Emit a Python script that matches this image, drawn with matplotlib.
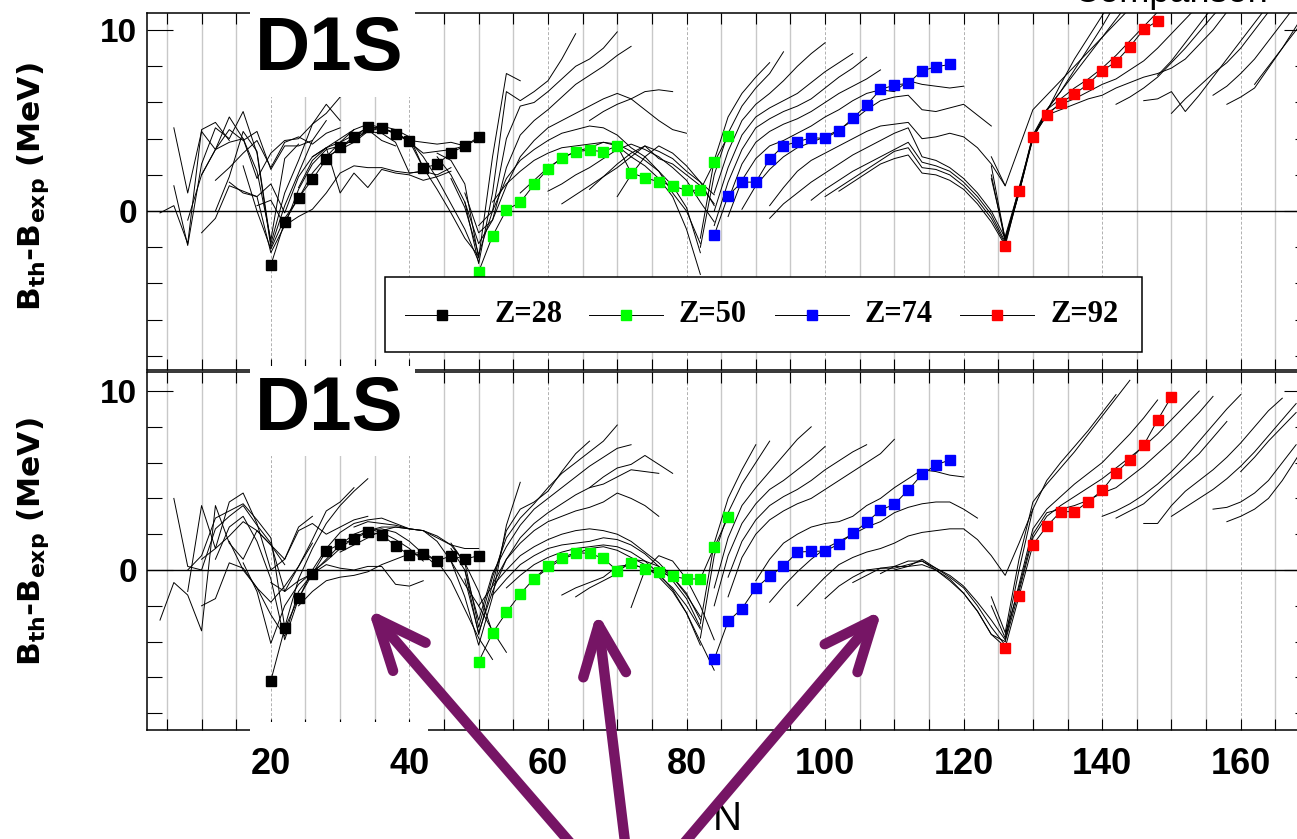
import numpy as np
import matplotlib.pyplot as plt
from matplotlib.patches import Rectangle, FancyArrowPatch, ArrowStyle
from matplotlib.lines import Line2D
from matplotlib.ticker import MultipleLocator, FuncFormatter

W, H = 1297, 839

# marked isotopic chains, B_th - B_exp in MeV, every second N
n_z28 = list(range(20, 52, 2))
n_z50 = list(range(50, 88, 2))
n_z74 = list(range(84, 120, 2))
n_z92_top = list(range(126, 150, 2))
n_z92_bot = list(range(126, 152, 2))

z28_top = [-2.98, -0.59, 0.74, 1.75, 2.87, 3.54, 4.1, 4.64, 4.6, 4.24, 3.87, 2.39, 2.58, 3.22, 3.6, 4.1]
z50_top = [-3.35, -1.38, 0.07, 0.48, 1.47, 2.32, 2.95, 3.28, 3.37, 3.28, 3.61, 2.12, 1.84, 1.62, 1.4, 1.14,
           1.16, 2.69, 4.14]
z74_top = [-1.34, 0.85, 1.6, 1.6, 2.87, 3.61, 3.83, 4.05, 4.02, 4.44, 5.12, 5.86, 6.72, 6.96, 7.06, 7.75,
           7.97, 8.1]
z92_top = [-1.93, 1.12, 4.09, 5.29, 5.98, 6.46, 7.03, 7.75, 8.25, 9.08, 10.04, 10.5]

z28_bot = [-6.18, -3.26, -1.58, -0.22, 1.06, 1.45, 1.71, 2.14, 1.96, 1.36, 0.84, 0.88, 0.5, 0.8, 0.61, 0.8]
z50_bot = [-5.12, -3.52, -2.37, -1.34, -0.48, 0.22, 0.69, 0.97, 0.93, 0.65, -0.04, 0.37, 0.06, -0.13,
           -0.35, -0.5, -0.5, 1.27, 2.94]
z74_bot = [-4.99, -2.87, -2.16, -1.02, -0.35, 0.22, 1.0, 1.04, 1.06, 1.45, 2.05, 2.66, 3.35, 3.67, 4.47,
           5.34, 5.87, 6.15]
z92_bot = [-4.34, -1.47, 1.41, 2.44, 3.26, 3.26, 3.82, 4.45, 5.44, 6.15, 6.98, 8.38, 9.68]

legend_labels = ['Z=28', 'Z=50', 'Z=74', 'Z=92']
marker_colors = ['#000000', '#00ff00', '#0000ff', '#ff0000']

# other isotopic chains: (first N, values every second N)
top_light = [
    (4, [-0.1, 0.3, -1.8, 4.5, 4.9, 3.9]),
    (6, [4.6, 1.0, 4.4, 3.4, 5.2, 4.0, 2.2, -1.6, 2.9, 3.7]),
    (6, [1.4, -1.9, 2.6, 4.6, 4.0, 5.5, 3.2, -2.0, 0.3, 2.1, 3.9, 5.0]),
    (8, [-0.5, 2.0, 3.4, 4.5, 3.9, 4.4, 2.3, 3.6, 3.6, 3.9]),
    (10, [2.0, 3.4, 3.8, 4.0, 1.8, 3.2, 3.9, 4.0, 4.8, 5.9, 5.0]),
    (10, [-1.2, -0.4, 1.4, 1.1, 0.8, 1.5, -0.1, 1.9, 3.0, 3.5, 3.8, 4.5]),
    (12, [0.0, 1.9, 4.4, 3.3, -1.8, 1.0, 2.8, 4.8, 5.4, 6.3]),
    (12, [1.7, 2.4, 3.2, 3.9, 2.4, 3.8, 4.1, 3.7, 4.3, 4.6]),
    (14, [1.6, 1.0, 0.8, -2.3, -0.8, 1.2, 2.6, 3.4, 3.6, 3.9, 4.5, 3.9, 3.6]),
    (16, [2.5, 0.0, -2.1, -0.4, 0.7, 2.1, 3.0, 3.8, 4.2, 4.4, 4.3, 3.8, 2.1, 2.2]),
    (18, [0.3, 0.6, -0.8, -0.3, 0.1, 1.0, 2.1, 2.5, 2.4, 2.4, 2.2, 2.1, 2.2, 2.0, 2.4]),
    (24, [1.3, 2.8, 3.5, 1.0, 2.1, 1.3, 2.3, 2.1, 2.0, 1.7, 1.9, 2.2]),
    (26, [3.0, 3.5, 4.0, 4.5, 4.8, 4.6, 4.3, 3.9, 3.8, 3.7, 3.8, 3.6]),
    (28, [3.0, 3.4, 3.8, 4.4, 4.7, 4.5, 4.1, 2.4, 1.2, -0.1, -1.5, -2.5]),
    (30, [3.5, 4.0, 4.4, 4.6, 4.3, 3.9, 3.0, 1.8, 0.4, -1.0, -2.8]),
    (32, [4.2, 4.6, 4.6, 4.3, 3.8, 3.2, 3.3, 3.4, 3.6, 4.0]),
]
top_mid = [
    (44, [3.2, 2.8, 1.5, -2.6, 3.0, 7.6, 7.2]),
    (44, [3.0, 2.0, 0.5, -2.9, 1.0, 6.6, 6.1, 6.6, 7.2, 8.4, 9.8]),
    (46, [1.8, 0.2, -2.4, 0.0, 4.0, 5.8, 6.0, 6.6, 7.3, 8.0, 8.4, 9.0, 9.9]),
    (48, [0.5, -1.8, -0.5, 2.4, 4.2, 5.0, 5.6, 6.3, 7.0, 7.5, 8.0, 8.6, 9.1]),
    (48, [1.0, -1.2, -0.5, 1.4, 3.0, 3.9, 4.6, 5.0, 5.4, 5.8, 6.2, 6.5, 6.2, 5.6, 5.0, 4.5, 4.3]),
    (50, [-0.8, 0.0, 1.8, 2.8, 3.4, 3.9, 4.3, 4.5, 4.7, 4.6, 4.2, 3.5, 3.0, 2.2, 1.0, 0.0, -1.8]),
    (52, [0.5, 1.5, 2.2, 2.8, 3.2, 3.5, 3.6, 3.7, 3.8, 3.7, 3.3, 2.8, 2.2, 1.4, 0.2, -2.3]),
    (56, [1.0, 1.7, 2.4, 2.9, 3.3, 3.5, 3.8, 3.6, 3.0, 2.5, 1.8, 0.8, -1.0, -3.5]),
    (60, [1.1, 1.5, 2.0, 2.4, 2.9, 3.4, 3.7, 3.4, 3.0, 2.4, 1.7, 0.5, -0.6]),
    (62, [0.4, 0.9, 1.4, 1.9, 2.4, 3.0, 3.6, 2.9, 2.6, 2.0, 1.4, 0.4]),
    (66, [1.2, 1.9, 2.6, 3.2, 3.6, 3.3, 2.9, 2.2, 1.6, 0.9]),
    (66, [5.0, 5.5, 5.9, 6.2, 6.6, 6.7, 6.6]),
    (70, [0.8, 2.0, 3.0, 3.6, 3.2, 2.5, 1.6, 0.3]),
]
top_heavy = [
    (82, [-1.5, 2.8, 5.2, 6.5, 7.4, 8.2]),
    (82, [-2.0, 2.0, 4.3, 5.8, 6.8, 7.6, 8.8]),
    (84, [1.0, 3.3, 5.0, 5.9, 6.5, 7.2, 8.0, 8.7, 9.3]),
    (84, [0.0, 2.4, 4.2, 5.2, 5.7, 6.1, 6.5, 7.1, 7.7, 8.2, 8.7]),
    (84, [-0.8, 1.6, 3.4, 4.6, 5.1, 5.5, 5.8, 6.2, 6.8, 7.4, 7.9, 8.5]),
    (86, [0.6, 2.6, 3.8, 4.4, 4.8, 5.1, 5.5, 6.0, 6.5, 6.9, 7.3, 7.8]),
    (86, [-0.3, 1.7, 2.9, 3.6, 3.9, 4.3, 4.7, 5.2, 5.6, 6.1, 6.5, 6.7, 6.6, 7.2, 7.0, 6.9, 6.8, 6.9]),
    (88, [0.1, 1.4, 2.3, 3.0, 3.5, 3.8, 4.1, 4.5, 5.0, 5.6, 6.1, 6.3, 6.4, 5.6, 5.5, 5.7, 5.9, 5.3, 4.7]),
    (92, [0.3, 1.3, 2.2, 2.8, 3.2, 3.6, 4.0, 4.4, 4.7, 4.8, 4.9, 4.0, 4.1, 4.3, 4.1, 3.5, 2.6, 1.4]),
    (92, [-0.4, 0.4, 1.0, 1.6, 2.1, 2.6, 3.1, 3.5, 3.9, 4.3, 4.6, 3.0, 2.8, 2.4, 1.8, 1.0, 0.0, -1.5]),
    (98, [0.6, 1.2, 1.7, 2.2, 2.6, 3.0, 3.4, 3.8, 2.7, 2.5, 2.2, 1.6, 0.8, -0.2, -1.7]),
    (100, [0.8, 1.3, 1.8, 2.3, 2.8, 3.3, 3.5, 2.4, 2.3, 2.0, 1.4, 0.6, -0.4, -1.8]),
    (102, [1.1, 1.6, 2.1, 2.6, 2.9, 3.1, 2.1, 2.0, 1.7, 1.2, 0.4, -0.6, -1.9]),
]
top_act = [
    (124, [2.5, -1.6, 1.0, 4.2, 5.6, 6.6, 7.8, 9.0, 10.2, 11.5]),
    (124, [2.0, -1.7, 1.3, 4.0, 5.5, 7.0, 8.4, 9.6, 10.8, 12.0]),
    (124, [3.0, 1.4, 3.5, 5.6, 6.4, 7.2, 8.0, 8.8, 9.6, 10.4, 11.2, 12.0]),
    (124, [1.8, -1.5, 1.0, 4.0, 5.6, 6.2, 6.8, 7.3, 7.9, 8.6, 9.4, 10.2, 11.0, 11.8]),
    (126, [-1.4, 1.2, 4.2, 5.4, 5.9, 6.2, 6.6, 7.0, 7.3, 7.8, 8.3, 9.0, 9.8, 10.6, 11.4]),
    (126, [-1.8, 1.0, 4.1, 5.3, 5.6, 5.9, 6.2, 6.4, 6.8, 7.1, 7.4, 7.6, 7.9, 8.4, 9.2, 10.0, 11.0]),
    (132, [5.6, 6.6, 7.6, 8.6, 9.6, 10.6, 11.6]),
    (142, [5.9, 6.3, 6.8, 7.4, 8.2, 9.0, 9.9, 10.8, 11.6]),
    (146, [6.1, 6.2, 6.6, 5.5, 6.4, 7.4, 8.4, 9.4, 10.4, 11.4]),
    (148, [7.5, 8.3, 9.3, 10.3, 11.3]),
    (150, [5.4, 6.2, 6.9, 7.6, 8.2, 9.0, 10.0, 11.0, 12.0]),
    (156, [6.4, 6.9, 7.6, 8.4, 9.4, 10.4, 11.4]),
    (158, [5.9, 6.3, 6.8, 7.9, 9.0, 10.2, 11.4]),
    (162, [7.0, 8.0, 9.0, 10.0, 11.0]),
]

bot_light = [
    (4, [-2.8, -0.7, -1.4, -3.4, 3.6, 1.5, 0.6, 2.2, 1.4, 0.3]),
    (6, [4.0, 0.2, 0.0, 2.3, 3.0, 3.6, 2.5, 1.5, -1.2, 0.2, 1.5]),
    (8, [-1.2, 3.6, 1.2, 3.8, 4.3, 2.6, 0.0, 0.6, 2.4, 3.0]),
    (8, [0.0, 0.8, 2.9, 3.3, 3.7, 2.8, 1.8, -3.2, -0.5, 1.2, 2.6, 3.6, 4.4, 5.1]),
    (10, [-2.0, -1.6, 0.4, 0.1, -1.0, -1.8, -0.9, 0.2, 1.7, 3.3, 3.8, 4.6]),
    (10, [0.6, 1.2, 1.9, 2.7, 2.2, 1.4, 0.6, 2.2, 2.6, 2.0, 2.4, 2.8, 3.0]),
    (12, [0.6, 2.4, 3.0, 1.6, -0.5, -3.9, -1.6, 0.0, 1.2, 2.1, 2.6, 2.8, 2.9, 2.6, 2.3]),
    (14, [1.6, 0.0, -1.0, -2.5, -3.7, -1.2, -0.2, 0.6, 1.4, 2.0, 2.3, 2.1, 1.7, 1.2, 0.5]),
    (16, [0.4, -1.2, -4.1, -2.0, -0.8, -0.1, 0.5, 1.2, 1.8, 2.2, 2.3, 2.1, 1.6, 0.9, 0.2]),
    (20, [-0.7, -1.2, -0.6, -0.2, 0.3, 0.1, 0.0, 0.2, 0.2, -0.8, -0.9, -0.6]),
    (24, [-2.0, -1.2, -0.6, -0.4, -0.3, -0.1, 0.3, 0.6, 0.9, 1.0, 0.5, -0.6, -2.2, -3.8, -5.0]),
    (30, [1.0, 1.4, 1.8, 2.2, 2.4, 2.3, 2.2, 1.9, 1.4, 0.4, -1.2, -3.5]),
    (32, [2.4, 2.7, 2.6, 2.5, 2.3, 2.2, 1.8, 1.4, 1.2, 1.2]),
    (34, [2.2, 2.4, 2.4, 2.3, 2.2, 1.6, 0.5, -0.8, -2.0, -3.4, -4.6]),
]
bot_mid = [
    (46, [0.5, -1.5, -4.2, -1.5, 2.5, 4.9]),
    (46, [1.2, 0.0, -3.6, -0.8, 2.2, 3.4, 3.8, 4.4, 5.5, 6.5, 7.2]),
    (46, [1.5, 0.4, -3.2, -0.4, 1.8, 2.9, 3.7, 4.6, 5.4, 6.0, 6.6, 7.2, 8.1]),
    (48, [0.0, -2.8, -0.2, 1.3, 2.5, 3.4, 4.0, 4.6, 5.2, 5.8, 6.3, 6.8, 7.0]),
    (48, [-0.5, -3.5, -1.2, 0.6, 1.8, 2.6, 3.2, 3.7, 4.2, 4.6, 4.8, 5.2, 5.6, 5.5, 5.4]),
    (52, [-0.8, 0.6, 1.5, 2.2, 2.7, 3.0, 3.3, 3.5, 3.8, 4.3, 4.0, 3.6, 3.0]),
    (50, [-2.0, -0.9, 0.0, 0.8, 1.3, 1.7, 2.0, 2.2, 2.3, 2.2, 2.0, 1.6, 1.0, 0.4, -0.4, -1.4, -2.6]),
    (52, [-1.4, -0.5, 0.3, 0.8, 1.2, 1.4, 1.5, 1.6, 1.8, 1.7, 1.4, 0.9, 0.2, -0.6, -1.6, -3.2]),
    (54, [-1.0, -0.3, 0.3, 0.7, 1.0, 1.2, 1.3, 1.4, 1.3, 1.0, 0.5, -0.2, -1.1, -2.4, -4.2]),
    (58, [-0.5, 0.1, 0.6, 0.9, 1.2, 1.3, 1.1, 0.7, 0.3, -0.4, -1.2, -2.4, -4.0, -5.6]),
    (62, [-1.4, -1.0, -0.7, -0.4, 0.2, 0.3, 0.1, -0.3, -1.0, -2.0, -3.3]),
    (64, [-1.5, -1.0, -0.6, -0.2, 0.6, 0.5, 0.2, -0.4, -1.3, -2.8]),
    (72, [-2.1, 0.0, 0.8, 0.5, -0.5, -2.0, -3.9]),
    (66, [4.6, 5.2, 5.7, 5.9, 6.4, 5.9, 5.4]),
]
bot_heavy = [
    (82, [-3.0, 1.5, 4.0, 5.6, 7.0]),
    (82, [-3.8, 0.8, 3.2, 4.8, 6.0, 7.2]),
    (84, [-1.0, 1.8, 3.6, 4.6, 5.5, 6.4, 7.3, 8.0]),
    (84, [-2.0, 0.8, 2.6, 3.7, 4.5, 5.0, 5.6, 6.2, 6.9]),
    (86, [-0.4, 1.6, 2.8, 3.6, 4.1, 4.5, 5.0, 5.6, 6.1, 6.6, 7.0]),
    (86, [-1.5, 0.7, 2.0, 2.8, 3.3, 3.7, 4.0, 4.5, 5.0, 5.5, 6.0, 6.5, 7.3]),
    (90, [-0.6, 0.6, 1.5, 2.0, 2.4, 2.6, 2.7, 3.0, 3.6, 4.0, 4.6, 5.1, 5.6, 5.5, 5.3, 5.2]),
    (92, [-1.8, -0.9, -0.1, 0.6, 1.2, 1.6, 2.0, 2.4, 2.7, 3.2, 3.5, 3.7, 3.8, 3.8, 3.4, 2.9]),
    (96, [-2.0, -1.2, -0.4, 0.3, 0.7, 1.0, 1.2, 1.5, 1.9, 2.1, 2.2, 2.3, 2.3, 1.7, 0.8, -0.3, 1.5, 3.4]),
    (100, [-1.6, -0.9, -0.4, 0.0, 0.1, 0.1, 0.3, 0.5, 0.0, -0.6, -1.3, -2.3, -3.6, -4.0]),
    (104, [-0.7, -0.3, 0.1, 0.2, 0.2, 0.6, 0.1, -0.4, -1.0, -2.0, -3.2, -4.2]),
    (108, [-0.2, 0.2, 0.5, 0.5, 0.1, -0.3, -0.9, -1.8, -2.8, -3.9]),
    (110, [0.0, 0.2, 0.3, 0.0, -0.5, -1.3, -2.3, -3.6, -4.3]),
]
bot_act = [
    (124, [-2.0, -3.8, 0.0, 3.4, 5.0, 6.0, 6.9, 7.8, 8.8, 9.8]),
    (124, [-1.5, -3.5, 0.6, 3.8, 4.8, 5.7, 6.6, 7.6, 8.6, 9.6, 10.6]),
    (126, [-3.9, -0.8, 2.3, 3.4, 4.1, 4.8, 5.4, 6.0, 6.8, 7.6, 8.5, 9.5]),
    (126, [-4.0, -1.2, 1.8, 3.0, 3.6, 4.1, 4.6, 5.1, 5.7, 6.3, 6.9, 7.6, 8.4, 9.2, 10.0]),
    (126, [-3.6, -1.0, 2.0, 3.2, 3.4, 3.6, 3.9, 4.3, 4.6, 5.2, 5.8, 6.5, 7.2, 8.0, 8.8, 9.7]),
    (140, [3.0, 3.3, 3.7, 4.2, 4.8, 5.5, 6.3, 7.2, 8.1, 9.0, 9.8]),
    (142, [2.9, 3.3, 3.7, 4.4, 5.1, 5.8, 6.5, 7.4, 8.3]),
    (146, [2.6, 2.6, 3.6, 4.4, 5.0, 5.6, 6.3, 7.1, 8.0, 8.9, 9.6]),
    (150, [3.0, 3.5, 4.0, 4.5, 5.1, 5.8, 6.6, 7.5, 8.4, 9.3]),
    (156, [3.4, 3.5, 3.8, 4.3, 5.0, 6.0, 7.0]),
    (158, [2.7, 3.0, 3.4, 4.0, 5.0, 6.2, 7.4, 8.7]),
    (160, [5.5, 6.3, 7.2, 8.0, 8.8]),
]

arrow_tips = [(368, 609), (597, 612), (882, 610)]
arrow_tails = [(598, 875), (629, 875), (657, 875)]
purple = '#761565'


def fx(x):
    return x / W


def fy(y):
    return 1 - y / H


def draw_panel(ax, thin, marked, ylim, labels):
    ax.set_xlim(2.08, 170)
    ax.set_ylim(*ylim)
    for n in range(5, 171, 5):
        if n % 20 == 0:
            ax.axvline(n, color='#b0b0b0', lw=0.7, ls=(0, (3, 2)), zorder=0.5)
        else:
            ax.axvline(n, color='#c8c8c8', lw=1.0, zorder=0.5)
    ax.axhline(0, color='black', lw=1.0, zorder=1.5)
    for n0, vals in thin:
        n = n0 + 2 * np.arange(len(vals))
        ax.plot(n, vals, color='black', lw=0.7, zorder=2)
    for (n, vals), col in zip(marked, marker_colors):
        ax.plot(n, vals, color='black', lw=0.7, marker='s', ms=6.5,
                mfc=col, mec=col, zorder=3)
    ax.xaxis.set_major_locator(MultipleLocator(5))
    ax.yaxis.set_major_locator(MultipleLocator(10))
    ax.yaxis.set_minor_locator(MultipleLocator(2))
    ax.tick_params(axis='x', which='major', direction='in', length=8, width=0.8,
                   top=True, bottom=True, labelbottom=labels, pad=12)
    ax.tick_params(axis='y', which='major', direction='in', length=19, width=0.8,
                   left=True, right=True, pad=7)
    ax.tick_params(axis='y', which='minor', direction='in', length=11, width=0.8,
                   left=True, right=True)
    ax.xaxis.set_major_formatter(FuncFormatter(
        lambda v, p: '%d' % v if v % 20 == 0 and v > 0 else ''))
    for lab in ax.get_xticklabels() + ax.get_yticklabels():
        lab.set_fontfamily('Liberation Sans')
        lab.set_fontweight('bold')
    for lab in ax.get_xticklabels():
        lab.set_fontsize(26)
    for lab in ax.get_yticklabels():
        lab.set_fontsize(24)
    for sp in ax.spines.values():
        sp.set_linewidth(1.1)


fig = plt.figure(figsize=(W / 100, H / 100), dpi=100)
left = fx(146.7)
width = (1310 - 146.7) / W
ax_top = fig.add_axes([left, fy(370), width, (370 - 12.7) / H])
ax_bot = fig.add_axes([left, fy(730), width, (730 - 371.7) / H])

draw_panel(ax_top, top_light + top_mid + top_heavy + top_act,
           [(n_z28, z28_top), (n_z50, z50_top), (n_z74, z74_top), (n_z92_top, z92_top)],
           (-8.78, 10.96), False)
draw_panel(ax_bot, bot_light + bot_mid + bot_heavy + bot_act,
           [(n_z28, z28_bot), (n_z50, z50_bot), (n_z74, z74_bot), (n_z92_bot, z92_bot)],
           (-8.94, 11.08), True)

# white boxes behind the D1S labels and under the lower frame
for x0, y0, x1, y1 in [(250, 0, 415, 97), (250, 366, 415, 456), (250, 722, 428, 742)]:
    fig.add_artist(Rectangle((fx(x0), fy(y1)), fx(x1) - fx(x0), fy(y0) - fy(y1),
                             transform=fig.transFigure, facecolor='white',
                             edgecolor='none', zorder=4))
for yb in [70, 430]:
    fig.text(fx(255), fy(yb), 'D1S', fontsize=55, fontweight='bold',
             family='Liberation Sans', va='baseline', ha='left', zorder=5)

for yc in [187, 542]:
    fig.text(fx(33), fy(yc), r'B$_\mathbf{th}$-B$_\mathbf{exp}$ (MeV)', rotation=90,
             fontsize=22.5, fontweight='bold', ha='center', va='center')

# legend
fig.add_artist(Rectangle((fx(385), fy(352)), fx(1142) - fx(385), fy(277) - fy(352),
                         transform=fig.transFigure, facecolor='white',
                         edgecolor='black', lw=1.1, zorder=4))
leg_x = [405, 589, 775, 960]
for x0, lab, col in zip(leg_x, legend_labels, marker_colors):
    fig.add_artist(Line2D([fx(x0), fx(x0 + 74)], [fy(315), fy(315)],
                          transform=fig.transFigure, color='black', lw=0.7, zorder=5))
    fig.add_artist(Line2D([fx(x0 + 37)], [fy(315)], transform=fig.transFigure,
                          marker='s', ms=6.5, mfc=col, mec=col, lw=0, zorder=5))
    fig.text(fx(x0 + 90), fy(315), lab, fontsize=22, fontweight='bold',
             family='Liberation Serif', va='center', ha='left', zorder=5)

fig.text(fx(727), fy(838), 'N', fontsize=29, family='Liberation Sans',
         ha='center', va='bottom', zorder=3)
fig.text(fx(1073), fy(1.5), 'Comparison', fontsize=26, family='Liberation Sans',
         ha='left', va='baseline')

style = ArrowStyle('->', head_length=1.0, head_width=0.43)
for tip, tail in zip(arrow_tips, arrow_tails):
    arr = FancyArrowPatch((fx(tail[0]), fy(tail[1])), (fx(tip[0]), fy(tip[1])),
                          transform=fig.transFigure, arrowstyle=style, mutation_scale=36,
                          color=purple, lw=7.5, capstyle='round', joinstyle='round',
                          shrinkA=0, shrinkB=0, zorder=6)
    fig.add_artist(arr)

fig.savefig('out.png', dpi=100)
